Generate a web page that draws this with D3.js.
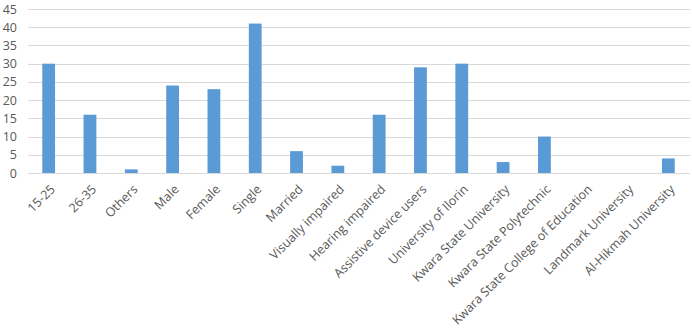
<!DOCTYPE html>
<html>
<head>
<meta charset="utf-8">
<script src="https://cdn.jsdelivr.net/npm/d3@7"></script>
<style>
  body { margin: 0; background: #fff; }
  svg text { font-family: "Open Sans", "Noto Sans", sans-serif; fill: #595959; }
</style>
</head>
<body>
<svg id="chart" width="692" height="328"></svg>
<script>
var categories = ["15-25", "26-35", "Others", "Male", "Female", "Single", "Married",
    "Visually impaired", "Hearing impaired", "Assistive device users",
    "University of Ilorin", "Kwara State University", "Kwara State Polytechnic",
    "Kwara State College of Education", "Landmark University", "Al-Hikmah University"];
var counts = [30, 16, 1, 24, 23, 41, 6, 2, 16, 29, 30, 3, 10, 0, 0, 4];
var yTicks = [0, 5, 10, 15, 20, 25, 30, 35, 40, 45];

var svg = d3.select("#chart"),
    margin = { top: 9, right: 2, bottom: 155, left: 28 },
    width = +svg.attr("width") - margin.left - margin.right,
    height = +svg.attr("height") - margin.top - margin.bottom,
    g = svg.append("g").attr("transform", "translate(" + margin.left + "," + margin.top + ")");

var x = d3.scaleBand().domain(categories).range([0, 661]).paddingInner(0.69).paddingOuter(0.345);
var y = d3.scaleLinear().domain([0, 45]).range([height, 0]);

// gridlines
g.selectAll(".grid")
    .data(yTicks)
    .enter().append("line")
    .attr("x1", 0).attr("x2", width)
    .attr("y1", function (d) { return Math.round(y(d)) + 0.5; })
    .attr("y2", function (d) { return Math.round(y(d)) + 0.5; })
    .attr("stroke", "#d9d9d9");

// y axis labels
var yAxis = g.append("g").call(d3.axisLeft(y).tickValues(yTicks).tickSize(0).tickPadding(11));
yAxis.select(".domain").remove();
yAxis.selectAll("text").style("font-size", "12.5px");

// bars
g.selectAll(".bar")
    .data(counts)
    .enter().append("rect")
    .attr("x", function (d, i) { return x(categories[i]); })
    .attr("y", function (d) { return y(d); })
    .attr("width", x.bandwidth())
    .attr("height", function (d) { return height - y(d); })
    .attr("fill", "#5b9bd5");

// x axis
var xAxis = g.append("g")
    .attr("transform", "translate(0," + height + ")")
    .call(d3.axisBottom(x).tickSize(0));
xAxis.select(".domain").attr("stroke", "#d9d9d9");
xAxis.selectAll("text")
    .style("font-size", "12.5px")
    .attr("text-anchor", "end")
    .attr("dy", "0.35em")
    .attr("transform", "translate(4,14) rotate(-45)")
    .attr("y", 0)
    .attr("x", 0);
</script>
</body>
</html>
